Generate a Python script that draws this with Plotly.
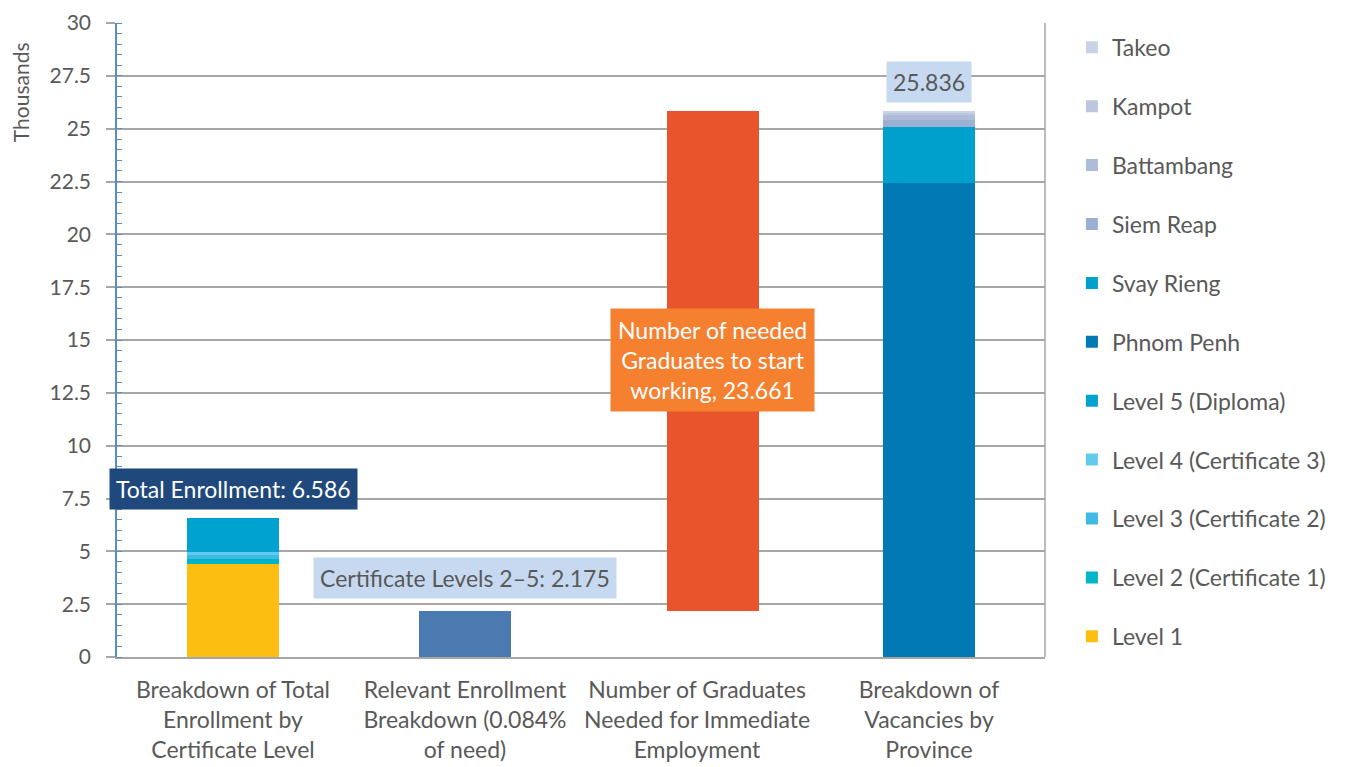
import plotly.graph_objects as go

categories = [
    "Breakdown of Total<br>Enrollment by<br>Certificate Level",
    "Relevant Enrollment<br>Breakdown (0.084%<br>of need)",
    "Number of Graduates<br>Needed for Immediate<br>Employment",
    "Breakdown of<br>Vacancies by<br>Province",
]

# Enrollment by certificate level (thousands)
level_names = ["Level 1", "Level 2 (Certificate 1)", "Level 3 (Certificate 2)",
               "Level 4 (Certificate 3)", "Level 5 (Diploma)"]
level_values = [4.411, 0.25, 0.17, 0.16, 1.595]
level_colors = ["#FDBE12", "#00B5C8", "#3FB9E6", "#62CBEC", "#00A3D0"]

# Vacancies by province (thousands)
province_names = ["Phnom Penh", "Svay Rieng", "Siem Reap", "Battambang", "Kampot", "Takeo"]
province_values = [22.45, 2.65, 0.31, 0.24, 0.13, 0.056]
province_colors = ["#0079B5", "#00A0CC", "#9BB1D3", "#ADBDD8", "#BCC6E0", "#C9D3E8"]

relevant_enrollment = 2.175
needed_graduates = 23.661
total_enrollment = 6.586
total_vacancies = 25.836

font_family = "Lato, 'Open Sans', sans-serif"
text_color = "#595959"
FS = 23
BAR_W = 0.4
NEEDED_SHIFT = 0.069  # the floating bar sits slightly right of its slot

fig = go.Figure()

n_legend = len(level_names) + len(province_names)
rank = n_legend
for n, v, c in zip(level_names, level_values, level_colors):
    fig.add_trace(go.Bar(x=[categories[0]], y=[v], name=n, marker_color=c,
                         marker_line_width=0, legendgroup=n, legendrank=rank))
    rank -= 1

fig.add_trace(go.Bar(x=[categories[1]], y=[relevant_enrollment], name="Relevant",
                     marker_color="#4A7AB0", marker_line_width=0, showlegend=False))
# invisible spacer so the needed-graduates bar floats
fig.add_trace(go.Bar(x=[categories[2]], y=[relevant_enrollment], name="spacer",
                     marker_color="rgba(0,0,0,0)", marker_line_width=0,
                     width=BAR_W, offset=-BAR_W / 2 + NEEDED_SHIFT,
                     showlegend=False, hoverinfo="skip"))
fig.add_trace(go.Bar(x=[categories[2]], y=[needed_graduates], name="Needed",
                     marker_color="#E8542C", marker_line_width=0,
                     width=BAR_W, offset=-BAR_W / 2 + NEEDED_SHIFT,
                     showlegend=False))

for n, v, c in zip(province_names, province_values, province_colors):
    fig.add_trace(go.Bar(x=[categories[3]], y=[v], name=n, marker_color=c,
                         marker_line_width=0, legendgroup=n, legendrank=rank))
    rank -= 1

annotations = [
    dict(x=categories[0], y=7.95, text="Total Enrollment: 6.586", showarrow=False,
         bgcolor="#1F497D", font=dict(color="white", size=FS, family=font_family),
         borderpad=6),
    dict(x=categories[1], y=3.74, text="Certificate Levels 2–5: 2.175", showarrow=False,
         bgcolor="#C6D9F0", font=dict(color=text_color, size=FS, family=font_family),
         borderpad=6),
    dict(x=categories[2], y=14.05, xshift=15,
         text="Number of needed<br>Graduates to start<br>working, 23.661", showarrow=False,
         bgcolor="#F58030", font=dict(color="white", size=FS, family=font_family),
         borderpad=7, align="center"),
    dict(x=categories[3], y=27.2, text="25.836", showarrow=False,
         bgcolor="#C6D9F0", font=dict(color=text_color, size=FS, family=font_family),
         borderpad=6),
    dict(xref="paper", yref="paper", x=-0.1045, y=0.891, text="Thousands",
         textangle=-90, showarrow=False, xanchor="center", yanchor="middle",
         font=dict(color=text_color, size=21, family=font_family)),
]

fig.update_layout(
    width=1337, height=759,
    barmode="stack", bargap=0.6,
    plot_bgcolor="white", paper_bgcolor="white",
    margin=dict(l=109, r=300, t=15, b=110, autoexpand=False),
    font=dict(family=font_family, color=text_color, size=FS),
    legend=dict(x=1.029, y=0.9955, xanchor="left", yanchor="top",
                traceorder="grouped", tracegroupgap=26, maxheight=740,
                font=dict(size=FS, color=text_color, family=font_family),
                itemwidth=30),
    annotations=annotations,
    showlegend=True,
)

fig.update_xaxes(showline=True, linecolor="#A6A6A6", linewidth=1.5,
                 tickfont=dict(size=FS, color=text_color, family=font_family),
                 ticks="", showgrid=False, ticklabelstandoff=12, automargin=False,
                 range=[-0.5, 3.5], autorange=False)
fig.update_yaxes(range=[0, 30], dtick=2.5, tick0=0,
                 showgrid=True, gridcolor="#A6A6A6", gridwidth=1.5,
                 showline=True, linecolor="#5B8BC6", linewidth=2,
                 ticks="outside", ticklen=9, tickcolor="#A6A6A6", tickwidth=1.5,
                 tickfont=dict(size=21, color=text_color, family=font_family),
                 minor=dict(dtick=0.5, ticks="inside", ticklen=5,
                            tickcolor="#5B8BC6", tickwidth=1, showgrid=False),
                 mirror=False, zeroline=False, ticksuffix="  ", automargin=False)

# right border line of plot area
fig.add_shape(type="line", xref="paper", yref="paper", x0=1, x1=1, y0=0, y1=1,
              line=dict(color="#A6A6A6", width=1.5))

fig.write_html("out.html")
